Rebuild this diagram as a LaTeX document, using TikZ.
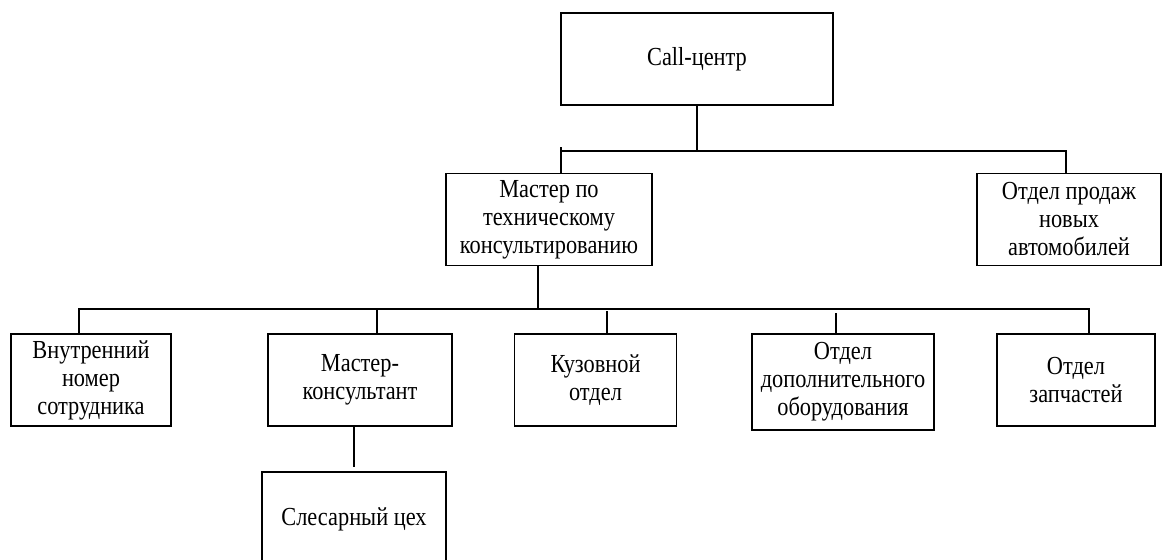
\documentclass[tikz,border=0pt]{standalone}
\usepackage{fontspec}
\setmainfont{Liberation Serif}[FakeStretch=0.86]
\usepackage{tikz}
\usetikzlibrary{positioning}

\begin{document}
\begin{tikzpicture}
  [
  x=0.75pt,y=-0.75pt,
  unit/.style={rectangle,draw,line width=0.8pt,align=center,inner sep=2pt,
    font=\fontsize{19.5}{21}\selectfont,minimum height=69pt},
  link/.style={line width=0.8pt}
  ]
  \useasboundingbox (0,0) rectangle (1163,560);
  \clip (0,0) rectangle (1163,560);
  % top level
  \node[unit,minimum width=204pt] (call) at (697,59) {Call-центр};
  \node[unit,minimum width=154.5pt] (master) at (549,219.5) {Мастер по\\техническому\\консультированию};
  \node[unit,minimum width=138pt] (sales) at (1069,219.5) {Отдел продаж\\новых\\автомобилей};
  % second level
  \node[unit,minimum width=120pt] (inner) at (91,380) {Внутренний\\номер\\сотрудника};
  \node[unit,minimum width=138pt] (consultant) at (360,380) {Мастер-\\консультант};
  \node[unit,minimum width=121pt] (body) at (595.5,380) {Кузовной\\отдел};
  \node[unit,minimum width=136.5pt,minimum height=72pt] (equipment) at (843,382) {Отдел\\дополнительного\\оборудования};
  \node[unit,minimum width=118.5pt] (parts) at (1076,380) {Отдел\\запчастей};
  \node[unit,minimum width=138pt,minimum height=70.5pt] (workshop) at (354,519) {Слесарный цех};
  % bus lines
  \coordinate (bus1) at (0,151);
  \coordinate (bus2) at (0,309);
  \draw[link] (call.south) -- (call.south |- bus1);
  \draw[link] ([xshift=9pt]master.north) -- ++(0,-26);
  \draw[link] ([xshift=9pt]master.north |- bus1) -| ([xshift=-2.25pt]sales.north);
  \draw[link] ([xshift=-8.25pt]master.south) -- ([xshift=-8.25pt]master.south |- bus2);
  \draw[link] ([xshift=-9pt]inner.north) |- ([xshift=9.75pt]parts.north |- bus2) -- ([xshift=9.75pt]parts.north);
  \draw[link] ([xshift=12.75pt]consultant.north) -- ([xshift=12.75pt]consultant.north |- bus2);
  \draw[link] ([xshift=8.6pt]body.north) -- ++(0,-22);
  \draw[link] ([xshift=-5.25pt]equipment.north) -- ++(0,-20);
  \draw[link] (workshop.north |- consultant.south) -- ([yshift=3pt]workshop.north);
\end{tikzpicture}
\end{document}
